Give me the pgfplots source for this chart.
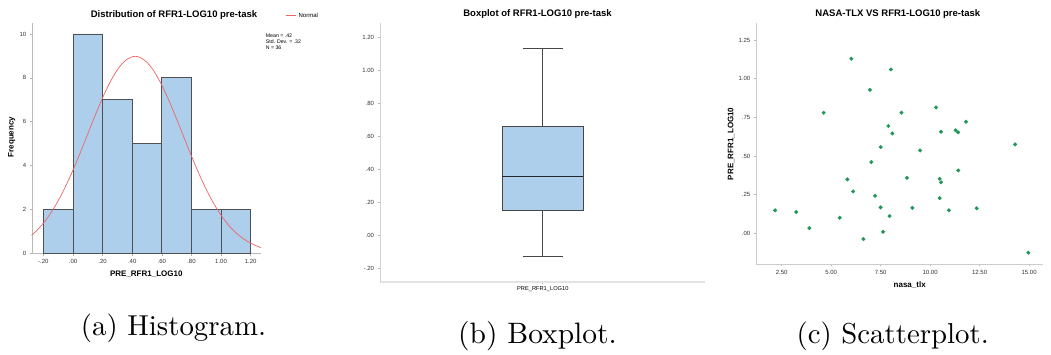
\documentclass[border=0pt]{standalone}
\usepackage{pgfplots}
\pgfplotsset{compat=1.18}
\usepgfplotslibrary{statistics}
\usepackage{graphicx}
\usepackage{fontspec}
\newfontfamily\spss{Liberation Sans}
\definecolor{barblue}{RGB}{173,207,236}
\definecolor{baredge}{RGB}{80,80,80}
\definecolor{dotgreen}{RGB}{34,150,90}
\definecolor{curvered}{RGB}{240,100,100}
\newcommand\tickfont{\spss\fontsize{6}{7}\selectfont}
\newcommand\titlefont{\spss\bfseries\fontsize{9.5}{11}\selectfont}
\newcommand\labfont{\spss\bfseries\fontsize{8}{9}\selectfont}
\pgfplotsset{spss/.style={
  scale only axis, axis x line*=bottom, axis y line*=left,
  axis line style={-, gray!55, line width=0.6pt},
  tick align=outside, major tick length=2.5pt,
  tick style={gray!60, line width=0.5pt},
  ticklabel style={font=\tickfont, text=black!80},
  xtick pos=bottom, ytick pos=left}}
\begin{document}
\begin{tikzpicture}
\path[use as bounding box] (0pt,0pt) rectangle (1051pt,-355pt);
% ---------------- Histogram ----------------
\begin{axis}[spss, at={(32.3pt,-23pt)}, anchor=north west,
  width=228.7pt, height=230.3pt,
  xmin=-0.275, xmax=1.27, ymin=0, ymax=10.5,
  xtick={-0.2,0,0.2,0.4,0.6,0.8,1.0,1.2},
  xticklabels={-.20,.00,.20,.40,.60,.80,1.00,1.20},
  ytick={0,2,4,6,8,10}, yticklabels={0,2,4,6,8,10},
  legend style={at={(1.105,1.032)}, anchor=west, draw=none, fill=none,
    inner sep=0pt, font=\spss\fontsize{6}{7}\selectfont},
  legend image code/.code={\draw[#1] (0pt,0pt) -- (10.7pt,0pt);},
  clip=false]
\addplot[ybar interval, fill=barblue, draw=baredge, line width=0.7pt, forget plot]
  coordinates {(-0.2,2) (0,10) (0.2,7) (0.4,5) (0.6,8) (0.8,2) (1.0,2) (1.2,2)};
\addplot[curvered, line width=0.7pt, smooth] coordinates {
(-0.28,0.821) (-0.25,1.003) (-0.20,1.375) (-0.15,1.838) (-0.10,2.399) (-0.05,3.054)
(0.00,3.795) (0.05,4.602) (0.10,5.447) (0.15,6.291) (0.20,7.090) (0.25,7.798)
(0.30,8.370) (0.35,8.768) (0.40,8.962) (0.42,8.980) (0.45,8.940) (0.50,8.703)
(0.55,8.269) (0.60,7.666) (0.65,6.936) (0.70,6.123) (0.75,5.277) (0.80,4.437)
(0.85,3.641) (0.90,2.916) (0.95,2.278) (1.00,1.738) (1.05,1.293) (1.10,0.939)
(1.15,0.666) (1.20,0.460) (1.25,0.311) (1.27,0.264)};
\addlegendentry{Normal}
\end{axis}
\node[anchor=north west, inner sep=0pt, align=left, font=\spss\fontsize{5.2}{6.3}\selectfont]
  at (265.7pt,-33.5pt) {Mean = .42\\Std. Dev. = .32\\N = 36};
\node[font=\titlefont] at (174pt,-15pt) {Distribution of RFR1-LOG10 pre-task};
\node[font=\labfont] at (146.3pt,-274pt) {PRE\_RFR1\_LOG10};
\node[font=\labfont, rotate=90] at (11.7pt,-137pt) {Frequency};
% ---------------- Boxplot ----------------
\begin{axis}[spss, at={(380pt,-23pt)}, anchor=north west,
  width=325pt, height=258.7pt,
  xmin=-2.001, xmax=1.996, ymin=-0.279, ymax=1.289,
  y axis line style={gray!35, line width=0.6pt},
  x axis line style={gray!22, line width=1.6pt},
  xtick={0}, xticklabels={\phantom{X}},
  ytick={-0.2,0,0.2,0.4,0.6,0.8,1.0,1.2},
  yticklabels={-.20,.00,.20,.40,.60,.80,1.00,1.20},
  tick style={gray!60, line width=0.5pt}]
\addplot[draw=black!72, fill=barblue, line width=0.85pt,
  boxplot prepared={draw direction=y, draw position=0,
   lower whisker=-0.127, lower quartile=0.156, median=0.358,
   upper quartile=0.661, upper whisker=1.136,
   box extend=1, whisker extend=0.488,
   every median/.style={line width=1.3pt, draw=black!85}}]
  coordinates {};
\end{axis}
\node[font=\titlefont] at (537.5pt,-14pt) {Boxplot of RFR1-LOG10 pre-task};
\node[font=\spss\fontsize{5.7}{7}\selectfont] at (542.8pt,-289.3pt) {PRE\_RFR1\_LOG10};
% ---------------- Scatter ----------------
\begin{axis}[spss, at={(756.3pt,-23pt)}, anchor=north west,
  width=286.7pt, height=241pt,
  xmin=1.22, xmax=15.7, ymin=-0.198, ymax=1.36,
  axis line style={gray!40, line width=0.6pt},
  xtick={2.5,5,7.5,10,12.5,15},
  xticklabels={2.50,5.00,7.50,10.00,12.50,15.00},
  ytick={0,0.25,0.5,0.75,1.0,1.25},
  yticklabels={.00,.25,.50,.75,1.00,1.25}]
\addplot[only marks, mark=*, mark size=1.8pt, mark options={fill=dotgreen, draw=dotgreen}]
 coordinates {
(6.02,1.129) (8.02,1.060) (6.96,0.928) (4.62,0.780) (8.55,0.780) (10.30,0.814)
(7.89,0.694) (8.09,0.646) (10.55,0.657) (11.29,0.666) (11.41,0.653) (11.81,0.722)
(7.50,0.558) (9.49,0.536) (14.29,0.575) (7.03,0.461) (11.42,0.407) (5.82,0.349)
(8.83,0.359) (10.48,0.353) (10.55,0.330) (6.11,0.271) (7.22,0.243) (10.48,0.228)
(2.17,0.149) (3.24,0.138) (7.50,0.168) (9.10,0.165) (10.95,0.149) (12.35,0.162)
(5.43,0.101) (7.95,0.112) (3.90,0.034) (7.62,0.010) (6.63,-0.037) (14.96,-0.125)};
\end{axis}
\node[font=\titlefont] at (897.8pt,-14pt) {NASA-TLX VS RFR1-LOG10 pre-task};
\node[font=\labfont] at (909.7pt,-285pt) {nasa\_tlx};
\node[font=\labfont, rotate=90] at (731pt,-143.8pt) {PRE\_RFR1\_LOG10};
% ---------------- Captions ----------------
\node[anchor=base] at (173.5pt,-335pt) {\scalebox{2.88}{\fontsize{10}{12}\selectfont (a) Histogram.}};
\node[anchor=base] at (537.5pt,-343pt) {\scalebox{2.95}{\fontsize{10}{12}\selectfont (b) Boxplot.}};
\node[anchor=base] at (892.7pt,-343pt) {\scalebox{2.88}{\fontsize{10}{12}\selectfont (c) Scatterplot.}};
\end{tikzpicture}
\end{document}
